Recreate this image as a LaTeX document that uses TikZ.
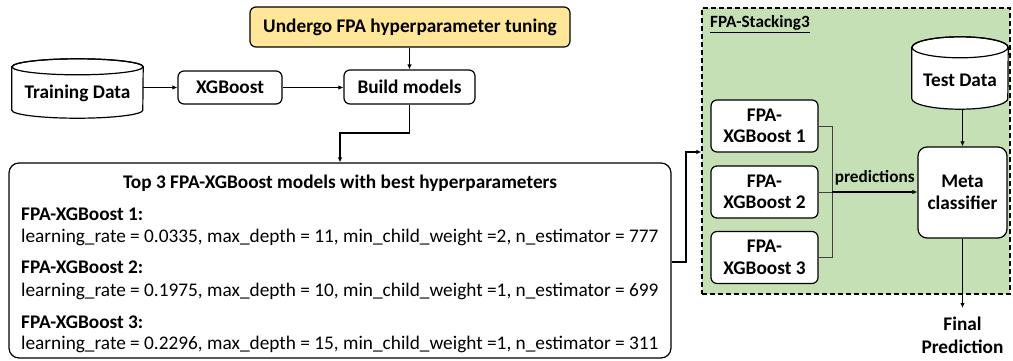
\documentclass[tikz,border=0pt]{standalone}
\usepackage{fontspec}
\setmainfont{Carlito}
\usetikzlibrary{arrows.meta}
\definecolor{tuneyellow}{HTML}{FFE699}
\definecolor{stackgreen}{HTML}{C5E0B4}
\definecolor{busgray}{HTML}{404040}
\newcommand{\dfont}{\fontsize{19.3}{21.5}\selectfont}
\newcommand{\sfont}{\fontsize{17.2}{20}\selectfont}
\tikzset{
  box/.style={draw, line width=1.2pt, rounded corners=6pt, fill=white, inner sep=0pt, align=center, font=\dfont\bfseries},
  cylbody/.style={inner sep=0pt},
  txt/.style={inner sep=0pt, font=\dfont},
  btxt/.style={inner sep=0pt, font=\dfont\bfseries},
  sbtxt/.style={inner sep=0pt, font=\sfont\bfseries},
  arr/.style={line width=1.2pt, -{Latex[length=5pt,width=4.5pt]}},
  bus/.style={line width=0.9pt, draw=busgray},
}
\newcommand{\cylshape}[3]{% node, half width, ry
  \draw[line width=1.2pt, fill=white] ([yshift=-#3]#1.north west) -- ([yshift=#3]#1.south west)
    arc[start angle=180, end angle=360, x radius=#2, y radius=#3]
    -- ([yshift=-#3]#1.north east)
    arc[start angle=0, end angle=180, x radius=#2, y radius=#3] -- cycle;
  \draw[line width=1.2pt] ([yshift=-#3]#1.north) ellipse [x radius=#2, y radius=#3];
}
\begin{document}
\begin{tikzpicture}[x=1pt,y=-1pt]
\useasboundingbox (0,0) rectangle (1013,360);

% green stacking region
\node[draw, line width=1.2pt, fill=stackgreen, minimum width=308pt, minimum height=286pt, inner sep=0pt, dash pattern=on 5pt off 3pt] (stack) at (856,151) {};
\node[sbtxt, anchor=west] (stacklabel) at (710,24) {\underline{FPA-Stacking3}};

% top-left flow
\node[box, fill=tuneyellow, minimum width=320pt, minimum height=40pt] (tune) at (410,27) {Undergo FPA hyperparameter tuning};
\node[cylbody, minimum width=131pt, minimum height=59pt] (train) at (77.5,88.5) {};
\cylshape{train}{65.5pt}{8pt}
\node[btxt] (traintxt) at (77.5,93) {Training Data};
\node[box, minimum width=104pt, minimum height=33pt] (xgb) at (230,87.5) {XGBoost};
\node[box, minimum width=131pt, minimum height=34pt] (build) at (409.5,87) {Build models};

\draw[arr] (train.east |- xgb.west) -- (xgb.west);
\draw[arr] (xgb.east) -- (build.west |- xgb.east);
\draw[arr] (tune.south -| build.north) -- (build.north);

% big box
\node[draw, line width=1.2pt, rounded corners=10pt, fill=white, minimum width=662pt, minimum height=195pt, inner sep=0pt] (top) at (340,260.5) {};
\node[btxt] (toptitle) at (340,183) {Top 3 FPA-XGBoost models with best hyperparameters};
\node[btxt, anchor=west] (m1) at (21,214) {FPA-XGBoost 1:};
\node[txt, anchor=west] (p1) at (21,237) {learning\_rate = 0.0335, max\_depth = 11, min\_child\_weight =2, n\_estimator = 777};
\node[btxt, anchor=west] (m2) at (21,267) {FPA-XGBoost 2:};
\node[txt, anchor=west] (p2) at (21,291) {learning\_rate = 0.1975, max\_depth = 10, min\_child\_weight =1, n\_estimator = 699};
\node[btxt, anchor=west] (m3) at (21,322) {FPA-XGBoost 3:};
\node[txt, anchor=west] (p3) at (21,344) {learning\_rate = 0.2296, max\_depth = 15, min\_child\_weight =1, n\_estimator = 311};

\coordinate (bend1) at (409.5,133);
\coordinate (bend2) at (340,133);
\draw[arr] (build.south) -- (bend1) -- (bend2) -- (top.north -| bend2);

\coordinate (out1) at (686,262);
\coordinate (out2) at (686,152);
\draw[arr] (top.east |- out1) -- (out1) -- (out2) -- (stack.west |- out2);

% stacking internals
\node[box, minimum width=107pt, minimum height=52pt] (f1) at (764.5,126) {FPA-\\XGBoost 1};
\node[box, minimum width=107pt, minimum height=52pt] (f2) at (764.5,192) {FPA-\\XGBoost 2};
\node[box, minimum width=107pt, minimum height=52pt] (f3) at (764.5,257.5) {FPA-\\XGBoost 3};
\node[cylbody, minimum width=96pt, minimum height=72pt] (test) at (960,73) {};
\cylshape{test}{48pt}{10.5pt}
\node[btxt] (testtxt) at (960,80) {Test Data};
\node[box, rounded corners=9pt, minimum width=89pt, minimum height=91pt] (meta) at (962.5,192.5) {Meta\\classifier};

\coordinate (busx) at (832,126);
\draw[bus] (f1.east) -- (busx |- f1.east) -- (busx |- f3.east) -- (f3.east);
\draw[bus] (f2.east) -- (busx |- f2.east);
\draw[arr] (busx |- f2.east) -- (meta.west |- f2.east) node[midway, above=6pt, sbtxt] (predlbl) {predictions};
\draw[arr] (test.south -| meta.north) -- (meta.north);

\coordinate (finaltip) at (962.5,308);
\draw[arr] (meta.south) -- (finaltip);
\node[btxt, align=center, font=\fontsize{19.3}{23}\selectfont\bfseries] (final) at (962.5,335) {Final\\Prediction};
\end{tikzpicture}
\end{document}
